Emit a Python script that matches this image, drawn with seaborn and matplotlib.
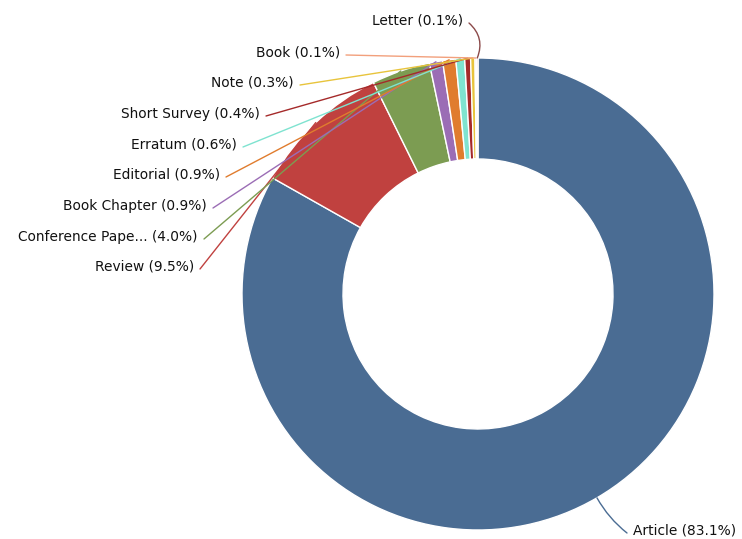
import numpy as np
import matplotlib
matplotlib.use("Agg")
import matplotlib.pyplot as plt
import seaborn as sns

# Document types and their share (%)
doc_types = ["Article", "Review", "Conference Paper", "Book Chapter", "Editorial",
             "Erratum", "Short Survey", "Note", "Book", "Letter"]
shares = [83.1, 9.5, 4.0, 0.9, 0.9, 0.6, 0.4, 0.3, 0.1, 0.1]
colors = ["#4a6c93", "#c0413f", "#7c9c52", "#9b6db5", "#e07c2e",
          "#7fe3d0", "#a52a2a", "#e8c43c", "#f2a07c", "#8b4a4a"]

sns.set_style("white")
plt.rcParams["font.family"] = ["DejaVu Sans"]

W, H = 742, 539
fig = plt.figure(figsize=(W / 100, H / 100), dpi=100)
ax = fig.add_axes([0, 0, 1, 1])

cx, cy, R = 478, H - 294, 236
wedges, _ = ax.pie(shares, colors=colors, startangle=90, counterclock=False,
                   center=(cx, cy), radius=R,
                   wedgeprops=dict(width=R - 135, edgecolor="white", linewidth=1))
ax.set_xlim(0, W)
ax.set_ylim(0, H)
ax.set_aspect("equal")
ax.axis("off")

# label anchor positions (pixels from top-left)
label_pos = {
    "Article": (633, 531, "left"),
    "Review": (194, 267, "right"),
    "Conference Paper": (198, 237, "right"),
    "Book Chapter": (207, 206, "right"),
    "Editorial": (220, 175, "right"),
    "Erratum": (237, 145, "right"),
    "Short Survey": (260, 114, "right"),
    "Note": (294, 83, "right"),
    "Book": (340, 53, "right"),
    "Letter": (463, 21, "right"),
}

for w, name, pct, col in zip(wedges, doc_types, shares, colors):
    mid = np.deg2rad((w.theta1 + w.theta2) / 2)
    px, py = cx + R * np.cos(mid), cy + R * np.sin(mid)
    short = name if len(name) <= 15 else name[:15] + "..."
    tx, ty, ha = label_pos[name]
    ty = H - ty
    lx = tx + 6 if ha == "right" else tx - 6
    rad = 0.0
    if name == "Letter":
        rad = -0.35
    elif name == "Article":
        rad = -0.1
    ax.annotate("", xy=(px, py), xytext=(lx, ty - 2),
                arrowprops=dict(arrowstyle="-", color=col, lw=1,
                                shrinkA=0, shrinkB=0,
                                connectionstyle=f"arc3,rad={rad}"))
    ax.text(tx, ty, f"{short} ({pct:.1f}%)", ha=ha, va="center",
            fontsize=9.9, color="#111111")

fig.savefig("out.png", dpi=100)
